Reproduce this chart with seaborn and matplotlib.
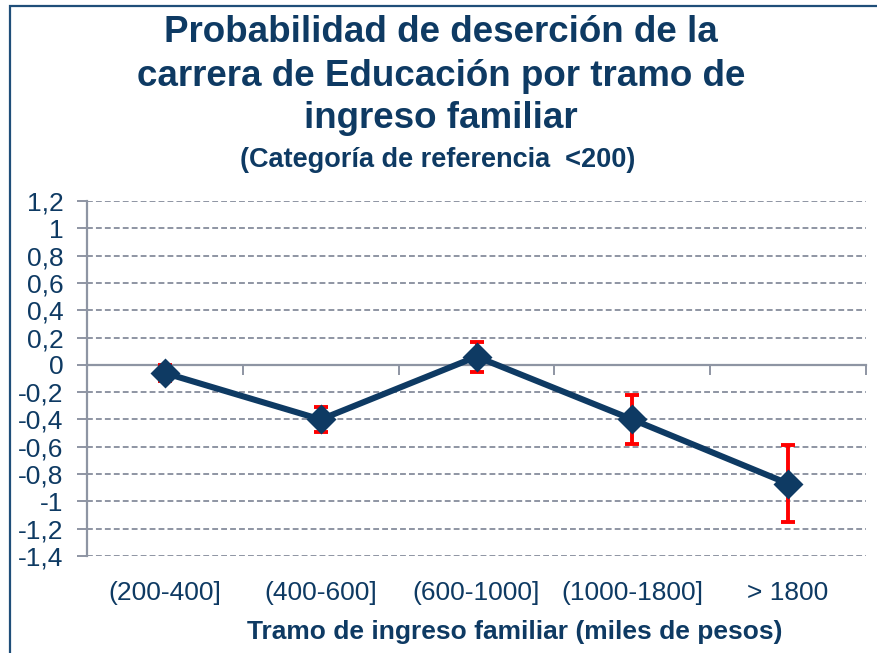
import matplotlib
matplotlib.use('Agg')
import matplotlib.pyplot as plt
import seaborn as sns
import pandas as pd
from matplotlib.patches import Rectangle

# data
tramos = ['(200-400]', '(400-600]', '(600-1000]', '(1000-1800]', '> 1800']
probabilidad = [-0.06, -0.40, 0.06, -0.40, -0.87]
error = [0.06, 0.09, 0.11, 0.18, 0.28]
y_ticks = [1.2, 1, 0.8, 0.6, 0.4, 0.2, 0, -0.2, -0.4, -0.6, -0.8, -1, -1.2, -1.4]

azul = '#0E3A63'
gris = '#8E95A3'

sns.set_style('white')
plt.rcParams['font.family'] = ['Liberation Sans', 'DejaVu Sans']

df = pd.DataFrame({'tramo': tramos, 'prob': probabilidad, 'err': error})

fig = plt.figure(figsize=(8.77, 6.53), dpi=100)
ax = fig.add_axes([87 / 877, 1 - 556 / 653, (866 - 87) / 877, (556 - 201) / 653])

# horizontal dashed grid
for v in y_ticks:
    if v != 0:
        ax.axhline(v, color=gris, lw=1.4, ls=(0, (3, 1.6)), zorder=1)

ax.errorbar(range(len(tramos)), df['prob'], yerr=df['err'], fmt='none',
            ecolor='#FF0000', elinewidth=2.8, capsize=5, capthick=2.8, zorder=3)
sns.pointplot(data=df, x='tramo', y='prob', color=azul, markers='D',
              linestyles='-', errorbar=None, ax=ax, zorder=4)
for l in ax.lines:
    if l.get_marker() == 'D':
        l.set_linewidth(4.4)
        l.set_markersize(13)
        l.set_zorder(4)

ax.set_xlim(-0.5, len(tramos) - 0.5)
ax.set_ylim(-1.4, 1.2)
ax.set_yticks(y_ticks)
ax.set_yticklabels([f'{v:g}'.replace('.', ',') for v in y_ticks])
ax.tick_params(axis='y', colors=gris, labelcolor=azul, labelsize=19,
               length=7, width=1.4, direction='out', pad=10, left=True)

# x axis line at zero with ticks between categories
for s in ['top', 'right']:
    ax.spines[s].set_visible(False)
ax.spines['left'].set_color(gris)
ax.spines['left'].set_linewidth(1.6)
ax.spines['bottom'].set_position(('data', 0))
ax.spines['bottom'].set_color(gris)
ax.spines['bottom'].set_linewidth(1.6)
ax.spines['bottom'].set_zorder(2)
ax.set_xticks([i - 0.5 for i in range(len(tramos) + 1)])
ax.set_xticklabels([])
ax.tick_params(axis='x', colors=gris, length=7, width=1.4, direction='out', bottom=True)
ax.set_xlabel('')
ax.set_ylabel('')

sec = ax.secondary_xaxis('bottom')
sec.set_xticks(range(len(tramos)), labels=tramos)
sec.tick_params(length=0, labelsize=19, labelcolor=azul, pad=18)
sec.spines['bottom'].set_visible(False)

# titles
fig.text(0.503, 1 - 33 / 653, 'Probabilidad de deserción de la', ha='center', va='center',
         fontsize=26.5, fontweight='bold', color=azul)
fig.text(0.503, 1 - 76 / 653, 'carrera de Educación por tramo de', ha='center', va='center',
         fontsize=26.5, fontweight='bold', color=azul)
fig.text(0.503, 1 - 118 / 653, 'ingreso familiar', ha='center', va='center',
         fontsize=26.5, fontweight='bold', color=azul)
fig.text(0.499, 1 - 160 / 653, '(Categoría de referencia  <200)', ha='center', va='center',
         fontsize=19.5, fontweight='bold', color=azul)
fig.text(515 / 877, 1 - 632 / 653, 'Tramo de ingreso familiar (miles de pesos)', ha='center',
         va='center', fontsize=19, fontweight='bold', color=azul)

# chart border
fig.patches.append(Rectangle((10 / 877, -0.05), 1.1, 1 - 6 / 653 + 0.05, transform=fig.transFigure,
                             fill=False, edgecolor='#1F4E79', lw=1.6, clip_on=False))

fig.savefig('out.png', dpi=100)
